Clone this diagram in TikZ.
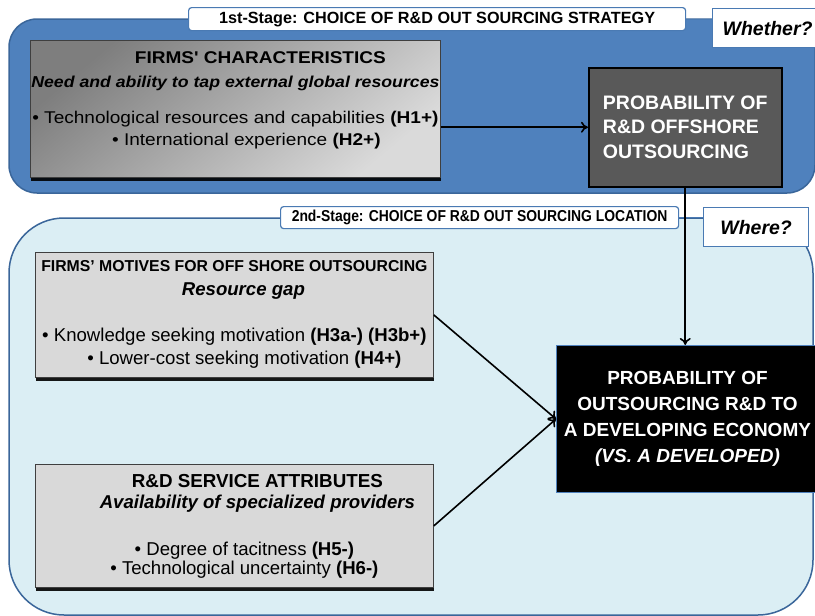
\documentclass[tikz,border=0pt]{standalone}
\usepackage{fontspec}
\setmainfont{Liberation Sans}
\newfontfamily\widefont[FakeStretch=1.12]{Liberation Sans}
\newfontfamily\narrowfont[FakeStretch=0.88]{Liberation Sans}
\usetikzlibrary{shadows,arrows.meta}

\definecolor{stageblue}{HTML}{4F81BD}
\definecolor{stageedge}{HTML}{3A669A}
\definecolor{paleblue}{HTML}{DBEEF4}
\definecolor{tagedge}{HTML}{4A7AB3}
\definecolor{darkbox}{HTML}{595959}
\definecolor{factorgray}{HTML}{D9D9D9}
\definecolor{boxedge}{HTML}{3F3F3F}
\definecolor{firmdark}{HTML}{7E7E7E}
\definecolor{firmlight}{HTML}{DADADA}

\tikzset{
  stageone/.style={fill=stageblue, draw=stageedge, line width=1.5pt, rounded corners=28pt},
  stagetwo/.style={fill=paleblue, draw=stageedge, line width=1.5pt, rounded corners=55pt},
  stagetag/.style={draw=tagedge, fill=white, line width=1.2pt, rounded corners=3pt,
    inner sep=0pt, anchor=north west},
  tagline/.style={draw=tagedge, line width=1.2pt},
  question/.style={draw=tagedge, fill=white, line width=1.2pt, inner sep=0pt,
    anchor=north west, font=\bfseries\itshape\fontsize{19.5}{22}\selectfont},
  factorbox/.style={draw=boxedge, line width=0.8pt, inner sep=0pt, anchor=north west,
    drop shadow={shadow xshift=1pt, shadow yshift=-4pt, opacity=0.9, fill=black}},
  link/.style={-{To[length=7pt,width=11pt]}, line width=1.6pt, draw=black}
}

\begin{document}
\begin{tikzpicture}[x=1pt, y=-1pt]
\useasboundingbox (0,0) rectangle (815,616);

% the two stages
\draw[stageone] (9,19) rectangle (815,193);
\draw[stagetwo] (9,218) rectangle (813,615);

% stage tags
\node[stagetag, minimum width=497pt, minimum height=23pt,
  font=\bfseries\fontsize{16.2}{18}\selectfont] (tagone) at (188,7)
  {1st-Stage: CHOICE OF R\&D OUT SOURCING STRATEGY};
\node[question, minimum width=110pt, minimum height=39pt] (whether) at (712,8) {Whether?};
\draw[tagline] (tagone.east) -- (tagone.east -| whether.west);

\node[stagetag, minimum width=398pt, minimum height=22pt,
  font=\narrowfont\bfseries\fontsize{15.8}{18}\selectfont] (tagtwo) at (280,206)
  {2nd-Stage: CHOICE OF R\&D OUT SOURCING LOCATION};
\node[question, minimum width=105pt, minimum height=39pt] (where) at (703,207) {Where?};
\draw[tagline] (tagtwo.east) -- (tagtwo.east -| where.west);

% first stage boxes
\node[factorbox, top color=firmdark, bottom color=firmlight, shading angle=40,
  minimum width=410pt, minimum height=137pt] (firms) at (30,40) {};
\node[inner sep=0pt, align=center, font=\widefont\fontsize{17}{22}\selectfont]
  (firmstext) at ([yshift=8.5pt]firms.center)
  {\hspace*{50pt}{\bfseries FIRMS' CHARACTERISTICS}\\[1.5pt]
   {\fontsize{15.8}{22}\selectfont\bfseries\itshape Need and ability to tap external global resources}\\[14.5pt]
   \textbullet\ Technological resources and capabilities \textbf{(H1+)}\\
   \hspace*{22pt}\textbullet\ International experience \textbf{(H2+)}};

\node[draw=black, line width=1.5pt, fill=darkbox, text=white, anchor=north west,
  minimum width=193pt, minimum height=119pt, align=left,
  font=\bfseries\fontsize{19.5}{24.5}\selectfont] (offshore) at (588,67)
  {PROBABILITY OF\\R\&D OFFSHORE\\OUTSOURCING};

% second stage boxes
\node[factorbox, fill=factorgray, minimum width=398pt, minimum height=125pt,
  align=center, font=\fontsize{18.6}{23.8}\selectfont] (motives) at (35,252)
  {{\fontsize{15.8}{23.8}\selectfont\bfseries FIRMS' MOTIVES FOR OFF SHORE OUTSOURCING}\\
   \hspace*{18pt}{\bfseries\itshape Resource gap}\\[21.6pt]
   \textbullet\ Knowledge seeking motivation \textbf{(H3a-) (H3b+)}\\
   \hspace*{20pt}\textbullet\ Lower-cost seeking motivation \textbf{(H4+)}};

\node[factorbox, fill=factorgray, minimum width=398pt, minimum height=123pt,
  align=center, font=\fontsize{18.6}{19}\selectfont] (service) at (35,464)
  {\hspace*{46pt}{\fontsize{18.8}{19}\selectfont\bfseries R\&D SERVICE ATTRIBUTES}\\[2pt]
   \hspace*{46pt}{\bfseries\itshape Availability of specialized providers}\\[28pt]
   \hspace*{20pt}\textbullet\ Degree of tacitness \textbf{(H5-)}\\
   \hspace*{20pt}\textbullet\ Technological uncertainty \textbf{(H6-)}};

\node[draw=stageblue, line width=1pt, fill=black, text=white, anchor=north west,
  minimum width=262pt, minimum height=147pt, align=center,
  font=\bfseries\fontsize{19}{26}\selectfont] (develop) at (556,345)
  {PROBABILITY OF\\OUTSOURCING R\&D TO\\A DEVELOPING ECONOMY\\{\itshape (VS. A DEVELOPED)}};

% links
\draw[link] (firms.east |- offshore.west) -- (offshore.west);
\draw[link] (offshore.south) -- (offshore.south |- develop.north);
\draw[link] (motives.east) -- (develop.west);
\draw[link] (service.east) -- (develop.west);
\end{tikzpicture}
\end{document}
